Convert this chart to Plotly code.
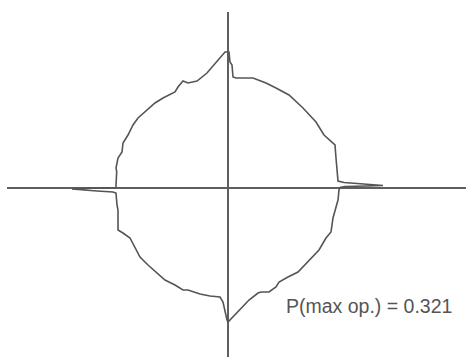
import plotly.graph_objects as go

# Curve points (centre of the cross = 0,0; y up)
px = [228, 229, 230, 232, 233, 236, 253, 266, 276, 289, 303, 316, 324, 331, 335,
      336, 337, 338, 344, 358, 367, 383, 367, 345, 340,
      339, 338, 336, 333, 331, 326, 319, 309, 298, 288, 279, 276, 269, 261, 258,
      249, 239, 229, 228,
      227, 225, 223, 220, 210, 200, 188, 183, 175, 165, 157, 148, 140, 135, 130,
      123, 118, 118, 117, 116, 113, 97, 83, 72, 83, 100, 116,
      116, 116.7, 116, 118, 122, 123, 128, 133, 138, 147, 155, 163, 175, 178,
      183, 188, 197, 207, 218, 225, 228]
py = [52, 52, 62, 65, 77, 78, 78, 83, 88, 95, 108, 122, 135, 142, 145,
      158, 172, 181, 182.5, 183.5, 184, 185.5, 186, 186.5, 187.5,
      190, 200, 208, 218, 232, 238, 250, 260, 272, 277, 282, 287, 292, 292, 293,
      300, 310, 320, 322,
      320, 312, 302, 297, 296, 294, 290, 290, 285, 280, 273, 265, 257, 248, 238,
      233, 230, 210, 205, 193, 192, 191, 190, 189, 188.5, 188, 187.5,
      185, 171.7, 168, 158, 152, 143, 135, 125, 118, 110, 103, 98, 92, 87,
      81, 83, 81, 73, 60, 52, 52]

CX, CY = 228, 187.5
xs = [p - CX for p in px]
ys = [CY - q for q in py]

label = "P(max op.) = 0.321"

fig = go.Figure()
fig.add_trace(go.Scatter(x=xs, y=ys, mode="lines",
                         line=dict(color="#555555", width=1.6),
                         hoverinfo="skip", showlegend=False))

fig.add_annotation(x=284 - CX, y=CY - 306, xref="x", yref="y", text=label,
                   showarrow=False, xanchor="left", yanchor="middle",
                   font=dict(family="Liberation Sans, Arial, sans-serif",
                             size=19.5, color="#555555"))

axis_common = dict(showgrid=False, showticklabels=False, ticks="",
                   showline=False, zeroline=True, zerolinecolor="#5f5f5f",
                   zerolinewidth=2.2, fixedrange=True)

fig.update_layout(
    width=466, height=358,
    margin=dict(l=7, r=0, t=12, b=1),
    paper_bgcolor="white", plot_bgcolor="white",
    xaxis=dict(range=[7 - CX, 466 - CX], **axis_common),
    yaxis=dict(range=[CY - 357, CY - 12], **axis_common),
)

fig.write_html("out.html", config={"displayModeBar": False},
               post_script="document.body.style.margin='0';document.body.style.padding='0';")
